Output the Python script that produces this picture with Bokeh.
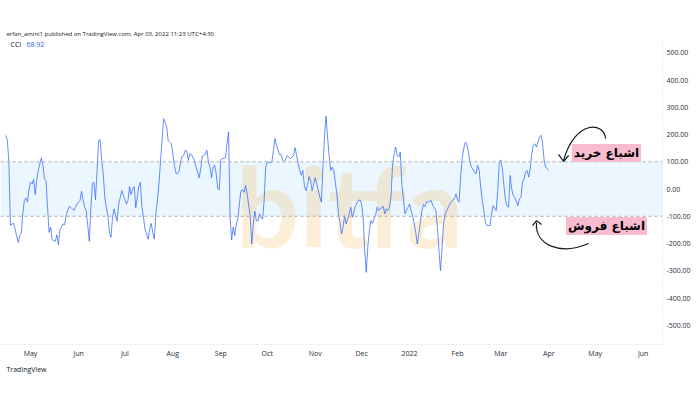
import pandas as pd
from bokeh.plotting import figure
from bokeh.models import (Range1d, FixedTicker, BoxAnnotation, Span, Label, Title,
                          NumeralTickFormatter, ColumnDataSource, CustomJSTickFormatter)
from bokeh.embed import file_html
from bokeh.resources import INLINE

# ---------------- data ----------------
dates = [
    "2021-04-15", "2021-04-16", "2021-04-17", "2021-04-18", "2021-04-19", "2021-04-20", "2021-04-21",
    "2021-04-23", "2021-04-24", "2021-04-25", "2021-04-26", "2021-04-27", "2021-04-28", "2021-04-29",
    "2021-04-30", "2021-05-01", "2021-05-02", "2021-05-03", "2021-05-04", "2021-05-05", "2021-05-06",
    "2021-05-08", "2021-05-09", "2021-05-10", "2021-05-11", "2021-05-12", "2021-05-13", "2021-05-14",
    "2021-05-15", "2021-05-16", "2021-05-17", "2021-05-18", "2021-05-19", "2021-05-20", "2021-05-21",
    "2021-05-22", "2021-05-23", "2021-05-24", "2021-05-25", "2021-05-26", "2021-05-27", "2021-05-29",
    "2021-05-30", "2021-05-31", "2021-06-02", "2021-06-03", "2021-06-04", "2021-06-05", "2021-06-06",
    "2021-06-07", "2021-06-08", "2021-06-09", "2021-06-10", "2021-06-11", "2021-06-12", "2021-06-13",
    "2021-06-14", "2021-06-15", "2021-06-16", "2021-06-17", "2021-06-18", "2021-06-19", "2021-06-20",
    "2021-06-21", "2021-06-22", "2021-06-23", "2021-06-24", "2021-06-25", "2021-06-26", "2021-06-27",
    "2021-06-28", "2021-06-29", "2021-06-30", "2021-07-02", "2021-07-03", "2021-07-04", "2021-07-05",
    "2021-07-06", "2021-07-07", "2021-07-08", "2021-07-09", "2021-07-10", "2021-07-11", "2021-07-12",
    "2021-07-13", "2021-07-14", "2021-07-16", "2021-07-17", "2021-07-18", "2021-07-19", "2021-07-20",
    "2021-07-21", "2021-07-22", "2021-07-23", "2021-07-24", "2021-07-25", "2021-07-26", "2021-07-27",
    "2021-07-28", "2021-07-29", "2021-07-31", "2021-08-01", "2021-08-02", "2021-08-03", "2021-08-04",
    "2021-08-05", "2021-08-06", "2021-08-07", "2021-08-08", "2021-08-09", "2021-08-10", "2021-08-11",
    "2021-08-12", "2021-08-13", "2021-08-15", "2021-08-16", "2021-08-17", "2021-08-18", "2021-08-19",
    "2021-08-20", "2021-08-21", "2021-08-22", "2021-08-23", "2021-08-24", "2021-08-25", "2021-08-26",
    "2021-08-27", "2021-08-28", "2021-08-29", "2021-08-30", "2021-08-31", "2021-09-01", "2021-09-02",
    "2021-09-04", "2021-09-05", "2021-09-06", "2021-09-07", "2021-09-08", "2021-09-09", "2021-09-10",
    "2021-09-11", "2021-09-12", "2021-09-13", "2021-09-14", "2021-09-15", "2021-09-16", "2021-09-17",
    "2021-09-18", "2021-09-20", "2021-09-21", "2021-09-22", "2021-09-23", "2021-09-24", "2021-09-25",
    "2021-09-26", "2021-09-27", "2021-09-28", "2021-09-29", "2021-09-30", "2021-10-01", "2021-10-02",
    "2021-10-04", "2021-10-05", "2021-10-06", "2021-10-07", "2021-10-08", "2021-10-09", "2021-10-10",
    "2021-10-11", "2021-10-12", "2021-10-13", "2021-10-14", "2021-10-15", "2021-10-16", "2021-10-18",
    "2021-10-19", "2021-10-20", "2021-10-21", "2021-10-22", "2021-10-23", "2021-10-24", "2021-10-25",
    "2021-10-26", "2021-10-27", "2021-10-28", "2021-10-29", "2021-10-30", "2021-11-01", "2021-11-02",
    "2021-11-03", "2021-11-04", "2021-11-05", "2021-11-06", "2021-11-07", "2021-11-08", "2021-11-09",
    "2021-11-10", "2021-11-11", "2021-11-12", "2021-11-13", "2021-11-15", "2021-11-16", "2021-11-17",
    "2021-11-18", "2021-11-19", "2021-11-20", "2021-11-21", "2021-11-22", "2021-11-23", "2021-11-24",
    "2021-11-25", "2021-11-26", "2021-11-27", "2021-11-29", "2021-11-30", "2021-12-01", "2021-12-02",
    "2021-12-03", "2021-12-04", "2021-12-05", "2021-12-06", "2021-12-07", "2021-12-08", "2021-12-09",
    "2021-12-10", "2021-12-11", "2021-12-12", "2021-12-13", "2021-12-15", "2021-12-16", "2021-12-17",
    "2021-12-18", "2021-12-19", "2021-12-20", "2021-12-21", "2021-12-22", "2021-12-23", "2021-12-24",
    "2021-12-25", "2021-12-26", "2021-12-27", "2021-12-29", "2021-12-30", "2021-12-31", "2022-01-01",
    "2022-01-02", "2022-01-03", "2022-01-04", "2022-01-05", "2022-01-06", "2022-01-07", "2022-01-08",
    "2022-01-09", "2022-01-10", "2022-01-11", "2022-01-12", "2022-01-13", "2022-01-15", "2022-01-16",
    "2022-01-17", "2022-01-18", "2022-01-19", "2022-01-20", "2022-01-21", "2022-01-22", "2022-01-23",
    "2022-01-24", "2022-01-25", "2022-01-26", "2022-01-27", "2022-01-29", "2022-01-30", "2022-01-31",
    "2022-02-01", "2022-02-02", "2022-02-03", "2022-02-04", "2022-02-05", "2022-02-06", "2022-02-07",
    "2022-02-08", "2022-02-09", "2022-02-10", "2022-02-12", "2022-02-13", "2022-02-14", "2022-02-15",
    "2022-02-16", "2022-02-17", "2022-02-18", "2022-02-19", "2022-02-20", "2022-02-21", "2022-02-22",
    "2022-02-23", "2022-02-24", "2022-02-26", "2022-02-27", "2022-02-28", "2022-03-01", "2022-03-02",
    "2022-03-03", "2022-03-04", "2022-03-05", "2022-03-06", "2022-03-07", "2022-03-08", "2022-03-09",
    "2022-03-10", "2022-03-12", "2022-03-13", "2022-03-14", "2022-03-15", "2022-03-16", "2022-03-17",
    "2022-03-18", "2022-03-19", "2022-03-20", "2022-03-21", "2022-03-22", "2022-03-23", "2022-03-24",
    "2022-03-26", "2022-03-27", "2022-03-28", "2022-03-29", "2022-03-30", "2022-03-31", "2022-04-01",
]
cci = [
    197, 178, 99, -134, -128, -126, -147,
    -196, -171, -163, -91, -42, -33, -48,
    -3, 25, 19, 35, -20, 31, 68,
    115, 87, 37, 31, -67, -159, -140,
    -187, -190, -192, -168, -204, -150, -140,
    -128, -131, -98, -79, -64, -67, -79,
    -67, -55, -42, -8, -42, -67, -79,
    -134, -192, -67, 21, 25, -39, 68,
    178, 181, 105, 56, -30, -67, -98,
    -159, -177, -104, -73, -98, -118, -55,
    -30, -6, -24, -55, -42, 9, -20,
    1, 9, -69, -30, 10, 25, -67,
    -104, -147, -184, -147, -126, -159, -184,
    -91, -42, 19, 99, 178, 258, 246,
    228, 178, 166, 129, 87, 58, 56,
    65, 99, 120, 123, 142, 139, 105,
    129, 126, 105, 80, 62, 41, 74,
    120, 123, 127, 142, 99, 80, 41,
    80, 87, 56, 1, -3, 107, 111,
    115, 166, 209, -104, -187, -140, -171,
    -128, -110, -55, -6, -3, -12, 13,
    -18, -98, -202, -128, -82, -116, -118,
    -91, -104, -110, -42, 80, 99, 96,
    99, 142, 185, 160, 142, 126, 127,
    105, 99, 111, 123, 117, 111, 123,
    152, 123, 93, 68, 50, 68, 13,
    -6, 13, 46, 31, -6, 41, 19,
    -6, -30, -48, 80, 191, 267, 191,
    123, 68, 80, 68, -18, -91, -122,
    -165, -140, -98, -128, -110, -91, -67,
    -104, -85, -61, -42, -40, -55, -104,
    -226, -306, -214, -153, -116, -126, -110,
    -98, -67, -79, -73, -64, -91, -73,
    -79, -67, -30, 87, 129, 154, 123,
    117, 136, 19, -91, -79, -67, -55,
    -79, -98, -128, -159, -202, -165, -122,
    -79, -57, -64, -48, -48, -42, -61,
    -69, -79, -140, -226, -300, -214, -128,
    -91, -79, -67, -55, -40, -36, -18,
    -40, -48, 44, 111, 148, 172, 166,
    136, 99, 80, 62, 56, 87, 68,
    7, -42, -79, -122, -134, -134, -134,
    -91, -61, -79, -6, 99, 107, 74,
    13, -42, -61, -67, 50, 1, -24,
    -30, -61, -36, -30, 25, 37, 62,
    68, 44, 74, 129, 160, 166, 154,
    191, 197, 166, 105, 80, 74, 68.92,
]

month_ticks = ["2021-05-01", "2021-06-01", "2021-07-01", "2021-08-01", "2021-09-01", "2021-10-01",
               "2021-11-01", "2021-12-01", "2022-01-01", "2022-02-01", "2022-03-01", "2022-04-01",
               "2022-05-01", "2022-06-01"]
month_labels = ["May", "Jun", "Jul", "Aug", "Sep", "Oct", "Nov", "Dec", "2022", "Feb", "Mar", "Apr",
                "May", "Jun"]
y_ticks = [500, 400, 300, 200, 100, 0, -100, -200, -300, -400, -500]
band_upper = 100
band_lower = -100
last_value = "68.92"


def ms(s):
    return pd.Timestamp(s).value / 1e6


# ---------------- figure ----------------
x_start, x_end = ms("2021-04-11 14:00"), ms("2022-06-13 12:00")
p = figure(width=700, height=400, x_axis_type="datetime", y_axis_location="right",
           x_range=Range1d(x_start, x_end), y_range=Range1d(-570.6, 545),
           output_backend="svg", toolbar_location=None,
           min_border_left=0, min_border_right=38, min_border_top=40, min_border_bottom=56)
p.outline_line_color = None
p.xgrid.grid_line_color = None
p.ygrid.grid_line_color = None
p.background_fill_color = "white"
p.border_fill_color = "white"

# header and footer
p.add_layout(Title(text="erfan_amini1 published on TradingView.com, Apr 03, 2022 11:23 UTC+4:30",
                   align="left", offset=6, standoff=5, text_font="Open Sans",
                   text_font_size="6px", text_font_style="normal", text_color="#131722"), "above")
p.add_layout(Title(text="TradingView", align="left", offset=6, standoff=4, text_font="Open Sans",
                   text_font_size="7px", text_font_style="normal", text_color="#131722"), "below")

# band
p.add_layout(BoxAnnotation(bottom=band_lower, top=band_upper, fill_color="#2196F3",
                           fill_alpha=0.09, line_alpha=0, level="underlay"))
for lv in (band_upper, band_lower):
    p.add_layout(Span(location=lv, dimension="width", line_color="#A8ABB3",
                      line_dash="3 3", line_width=1))

# watermark
p.add_layout(Label(x=ms("2021-11-23 05:00"), y=-57, text="bitfa", text_font="Lato",
                   text_font_style="bold", text_font_size="112px", text_color="#F5A623",
                   text_alpha=0.18, text_align="center", text_baseline="middle",
                   level="underlay"))

# CCI line
src = ColumnDataSource(dict(date=pd.to_datetime(dates), cci=cci))
p.line(x="date", y="cci", source=src, line_color="#2962FF", line_width=1, line_alpha=0.72)

# axes
tick_ms = [ms(t) for t in month_ticks]
p.xaxis.ticker = FixedTicker(ticks=tick_ms)
p.xaxis.formatter = CustomJSTickFormatter(args=dict(tvals=tick_ms, tlabels=month_labels), code="""
    const i = tvals.indexOf(tick);
    return i >= 0 ? tlabels[i] : "";
""")
p.yaxis.ticker = FixedTicker(ticks=y_ticks)
p.yaxis.formatter = NumeralTickFormatter(format="0.00")
for ax in (p.xaxis, p.yaxis):
    ax.major_tick_line_color = None
    ax.minor_tick_line_color = None
    ax.major_tick_out = 0
    ax.major_tick_in = 0
    ax.minor_tick_out = 0
    ax.axis_line_color = "#D1D4DC"
    ax.axis_line_dash = "1 2"
    ax.major_label_text_font = "Open Sans"
    ax.major_label_text_font_size = "7px"
    ax.major_label_text_color = "#2A2E39"
    ax.major_label_standoff = 4

# indicator legend
p.add_layout(Label(x=10, x_units="screen", y=530, text="CCI", text_font="Open Sans",
                   text_font_size="7px", text_color="#131722", text_baseline="middle"))
p.add_layout(Label(x=26, x_units="screen", y=530, text=last_value, text_font="Open Sans",
                   text_font_size="7px", text_color="#2962FF", text_baseline="middle"))

# pink annotation boxes
for txt, yv in (("اشباع خرید", 132), ("اشباع فروش", -136)):
    p.add_layout(Label(x=ms("2022-05-08 07:00"), y=yv, text=txt, text_font="DejaVu Sans",
                       text_font_style="bold", text_font_size="12px", text_color="#000000",
                       text_align="center", text_baseline="middle",
                       background_fill_color="#F8BBD0", padding=2))

# curved arrows
p.bezier(x0=[ms("2022-05-07 17:00"), ms("2022-03-24 02:00")], y0=[185, -123],
         x1=[ms("2022-04-10 12:00"), ms("2022-04-26 17:00")], y1=[105, -200],
         cx0=[ms("2022-05-07 00:00"), ms("2022-03-22 19:00")], cy0=[244, -207],
         cx1=[ms("2022-04-18 07:00"), ms("2022-04-08 14:00")], cy1=[259, -244],
         line_color="#131722", line_width=1.2)
p.multi_line(xs=[[ms("2022-04-07 07:00"), ms("2022-04-10 12:00"), ms("2022-04-13 19:00")],
                 [ms("2022-03-21 12:00"), ms("2022-03-24 02:00"), ms("2022-03-27 07:00")]],
             ys=[[127, 101, 123], [-134, -116, -130]],
             line_color="#131722", line_width=1.2)

open("out.html", "w").write(file_html(p, INLINE))
